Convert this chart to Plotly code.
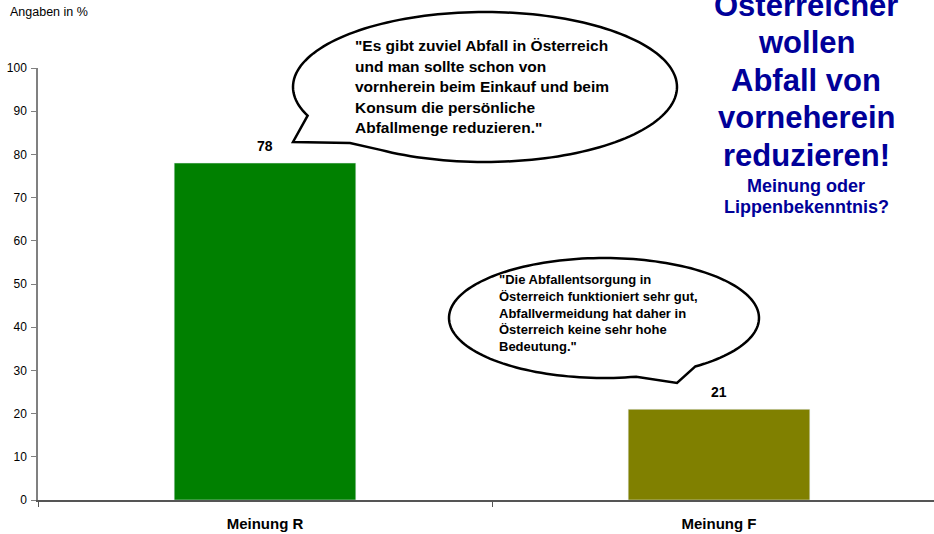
import numpy as np
import plotly.graph_objects as go

# ---- data ----
categories = ["Meinung R", "Meinung F"]
values = [78, 21]
bar_colors = ["#008000", "#808000"]
y_ticks = [0, 10, 20, 30, 40, 50, 60, 70, 80, 90, 100]

unit_label = "Angaben in %"
headline = ["Österreicher", "wollen", "Abfall von", "vorneherein", "reduzieren!"]
subline = ["Meinung oder", "Lippenbekenntnis?"]
quote_r = ['"Es gibt zuviel Abfall in Österreich', "und man sollte schon von",
           "vornherein beim Einkauf und beim", "Konsum die persönliche",
           'Abfallmenge reduzieren."']
quote_f = ['"Die Abfallentsorgung in', "Österreich funktioniert sehr gut,",
           "Abfallvermeidung hat daher in", "Österreich keine sehr hohe",
           'Bedeutung."']

FONT = "Liberation Sans, Arial, sans-serif"
W, H = 934, 534
ML, MR, MT, MB = 38, 0, 68, 34
PW, PH = W - ML - MR, H - MT - MB


def px(x):
    return (x - ML) / PW


def py(y):
    return (H - MB - y) / PH


def bubble_path(cx, cy, rx, ry, t_start, t_end, tail):
    ts = np.linspace(np.radians(t_start), np.radians(t_end), 160)
    pts = [(cx + rx * np.cos(t), cy + ry * np.sin(t)) for t in ts]
    pts += tail
    d = "M " + " L ".join(f"{px(x):.5f},{py(y):.5f}" for x, y in pts) + " Z"
    return d


fig = go.Figure()
fig.add_trace(go.Bar(
    x=categories, y=values, marker_color=bar_colors, width=0.4,
    cliponaxis=False, hoverinfo="skip",
))

shapes = [
    dict(type="path", xref="paper", yref="paper",
         path=bubble_path(485, 87, 192, 75, 157.5, 483, [(350, 143), (293, 142)]),
         line=dict(color="black", width=2.5), fillcolor="white", layer="above"),
    dict(type="path", xref="paper", yref="paper",
         path=bubble_path(604, 318, 155, 60, 54, -282, [(677, 383)]),
         line=dict(color="black", width=2.5), fillcolor="white", layer="above"),
]

annotations = [dict(text=unit_label, x=px(8), y=py(12), xref="paper", yref="paper",
                    xanchor="left", yanchor="middle", showarrow=False,
                    font=dict(family=FONT, size=12.5, color="black"))]
# value labels above bars, taken from the data
for c, v in zip(categories, values):
    annotations.append(dict(text=str(v), x=c, y=v, xref="x", yref="y",
                            xanchor="center", yanchor="middle", yshift=17,
                            showarrow=False,
                            font=dict(family=FONT, size=14, color="black", weight="bold")))
for i, line in enumerate(headline):
    annotations.append(dict(text=line, x=px(806), y=py(5.5 + 37.5 * i), xref="paper",
                            yref="paper", xanchor="center", yanchor="middle",
                            showarrow=False,
                            font=dict(family=FONT, size=31, color="#000099", weight="bold")))
for i, line in enumerate(subline):
    annotations.append(dict(text=line, x=px(806), y=py(186 + 21 * i), xref="paper",
                            yref="paper", xanchor="center", yanchor="middle",
                            showarrow=False,
                            font=dict(family=FONT, size=18, color="#000099", weight="bold")))
for i, line in enumerate(quote_r):
    annotations.append(dict(text=line, x=px(353), y=py(45.5 + 20.5 * i), xref="paper",
                            yref="paper", xanchor="left", yanchor="middle",
                            showarrow=False,
                            font=dict(family=FONT, size=15.5, color="black", weight="bold")))
for i, line in enumerate(quote_f):
    annotations.append(dict(text=line, x=px(497), y=py(279 + 17 * i), xref="paper",
                            yref="paper", xanchor="left", yanchor="middle",
                            showarrow=False,
                            font=dict(family=FONT, size=13, color="black", weight="bold")))

fig.update_layout(
    width=W, height=H, margin=dict(l=ML, r=MR, t=MT, b=MB, pad=0),
    paper_bgcolor="white", plot_bgcolor="white", showlegend=False,
    font=dict(family=FONT, color="black"),
    shapes=shapes, annotations=annotations,
    xaxis=dict(range=[-0.5, -0.5 + PW / 454], showgrid=False, zeroline=False,
               showline=True, linecolor="#555555", linewidth=1.5,
               ticks="outside", tickson="boundaries", ticklen=5, tickcolor="#555555",
               tickfont=dict(family=FONT, size=15, color="black", weight="bold"),
               ticklabelstandoff=9, fixedrange=True),
    yaxis=dict(range=[0, 100], tickvals=y_ticks, showgrid=False, zeroline=False,
               showline=True, linecolor="#808080", linewidth=1.5,
               ticks="outside", ticklen=5, tickcolor="#808080",
               tickfont=dict(family=FONT, size=12, color="black"),
               ticklabelstandoff=2, fixedrange=True),
)

fig.write_html("out.html", config={"displayModeBar": False},
               post_script="document.body.style.margin='0px';document.body.style.overflow='hidden';")
